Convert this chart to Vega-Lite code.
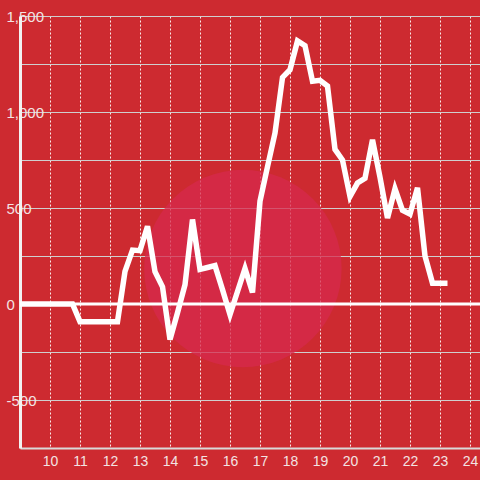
{
  "$schema": "https://vega.github.io/schema/vega-lite/v6.json",
  "width": 460,
  "height": 432,
  "autosize": {"type": "none"},
  "padding": {"left": 20, "top": 16, "right": 0, "bottom": 32},
  "background": "#cd2a30",
  "config": {
    "view": {"stroke": null},
    "axis": {"labelFont": "Liberation Sans", "labelFontSize": 14, "labelColor": "#f3e3e3", "ticks": false, "tickSize": 0, "title": null}
  },
  "data": {
    "values": [
      {"hour": 9.0, "value": 0}, {"hour": 9.25, "value": 0}, {"hour": 9.5, "value": 0}, {"hour": 9.75, "value": 0},
      {"hour": 10.0, "value": 0}, {"hour": 10.25, "value": 0}, {"hour": 10.5, "value": 0}, {"hour": 10.75, "value": 0},
      {"hour": 11.0, "value": -92}, {"hour": 11.25, "value": -92}, {"hour": 11.5, "value": -92}, {"hour": 11.75, "value": -92},
      {"hour": 12.0, "value": -92}, {"hour": 12.25, "value": -92}, {"hour": 12.5, "value": 170}, {"hour": 12.75, "value": 281},
      {"hour": 13.0, "value": 278}, {"hour": 13.25, "value": 405}, {"hour": 13.5, "value": 168}, {"hour": 13.75, "value": 90},
      {"hour": 14.0, "value": -185}, {"hour": 14.25, "value": -45}, {"hour": 14.5, "value": 100}, {"hour": 14.75, "value": 440},
      {"hour": 15.0, "value": 180}, {"hour": 15.25, "value": 190}, {"hour": 15.5, "value": 200}, {"hour": 15.75, "value": 75},
      {"hour": 16.0, "value": -55}, {"hour": 16.25, "value": 65}, {"hour": 16.5, "value": 185}, {"hour": 16.75, "value": 60},
      {"hour": 17.0, "value": 535}, {"hour": 17.25, "value": 715}, {"hour": 17.5, "value": 890}, {"hour": 17.75, "value": 1180},
      {"hour": 18.0, "value": 1220}, {"hour": 18.25, "value": 1370}, {"hour": 18.5, "value": 1345}, {"hour": 18.75, "value": 1160},
      {"hour": 19.0, "value": 1165}, {"hour": 19.25, "value": 1135}, {"hour": 19.5, "value": 805}, {"hour": 19.75, "value": 750},
      {"hour": 20.0, "value": 560}, {"hour": 20.25, "value": 630}, {"hour": 20.5, "value": 655}, {"hour": 20.75, "value": 855},
      {"hour": 21.0, "value": 660}, {"hour": 21.25, "value": 448}, {"hour": 21.5, "value": 600}, {"hour": 21.75, "value": 488},
      {"hour": 22.0, "value": 468}, {"hour": 22.25, "value": 605}, {"hour": 22.5, "value": 250}, {"hour": 22.75, "value": 108},
      {"hour": 23.0, "value": 108}, {"hour": 23.25, "value": 108}
    ]
  },
  "encoding": {
    "x": {
      "field": "hour", "type": "quantitative",
      "scale": {"domain": [9, 24.3333], "nice": false, "zero": false},
      "axis": {
        "values": [10, 11, 12, 13, 14, 15, 16, 17, 18, 19, 20, 21, 22, 23, 24],
        "grid": true, "gridColor": "#ffffff", "gridDash": [2, 2], "gridWidth": 1, "gridOpacity": 0.9,
        "domainColor": "#d9d9d9", "domainWidth": 2, "labelPadding": 6
      }
    },
    "y": {
      "field": "value", "type": "quantitative",
      "scale": {"domain": [-750, 1500], "nice": false},
      "axis": {
        "values": [-750, -500, -250, 0, 250, 500, 750, 1000, 1250, 1500],
        "labelExpr": "datum.value % 500 === 0 ? replace(format(datum.value, ','), '\u2212', '-') : ''",
        "grid": true, "gridColor": "#cfcfcf", "gridWidth": 1,
        "domainColor": "#f2f2f2", "domainWidth": 3,
        "labelAlign": "left", "labelPadding": 14, "labelBaseline": "middle", "labelFontSize": 15
      }
    }
  },
  "layer": [
    {
      "mark": {"type": "point", "filled": true, "color": "#d62a4c", "opacity": 0.75, "size": 39000},
      "data": {"values": [{"hour": 16.43, "value": 185}]}
    },
    {
      "mark": {"type": "rule", "color": "#ffffff", "strokeWidth": 3},
      "data": {"values": [{"value": 0}]},
      "encoding": {"x": {"value": 0}, "x2": {"value": 460}}
    },
    {
      "mark": {"type": "line", "color": "#ffffff", "strokeWidth": 5.5, "strokeJoin": "miter", "strokeCap": "butt", "clip": true}
    }
  ]
}
